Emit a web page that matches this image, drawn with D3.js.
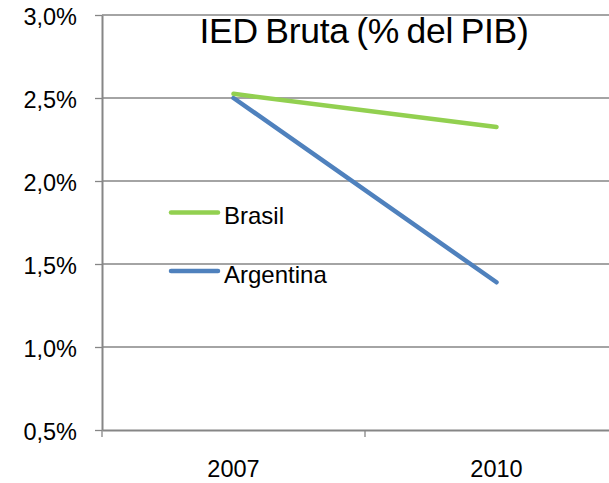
<!DOCTYPE html>
<html>
<head>
<meta charset="utf-8">
<script src="https://cdn.jsdelivr.net/npm/d3@7"></script>
<style>
  body { margin: 0; background: #fff; }
  svg { display: block; font-family: "Liberation Sans", Arial, sans-serif; }
</style>
</head>
<body>
<div id="chart"></div>
<script>
const years = ["2007", "2010"];
const brasil = [2.525, 2.325];
const argentina = [2.5, 1.39];
const yTicks = [0.5, 1.0, 1.5, 2.0, 2.5, 3.0];

const width = 609, height = 483;
const margin = { left: 102, right: -19, top: 15, bottom: 53 };
const innerW = width - margin.left - margin.right;
const innerH = height - margin.top - margin.bottom;
const font = "Liberation Sans, Arial, sans-serif";

const svg = d3.select("#chart").append("svg")
  .attr("width", width).attr("height", height);

const g = svg.append("g").attr("transform", `translate(${margin.left},${margin.top})`);

const x = d3.scaleBand().domain(years).range([0, innerW]);
const y = d3.scaleLinear().domain([0.5, 3.0]).range([innerH, 0]);

// gridlines
g.append("g").selectAll("line").data(yTicks.slice(1)).join("line")
  .attr("x1", 0).attr("x2", innerW)
  .attr("y1", d => y(d)).attr("y2", d => y(d))
  .attr("stroke", "#868686").attr("stroke-width", 1.3);

// y axis
const fmt = d => d.toFixed(1).replace(".", ",") + "%";
const yAxis = g.append("g").call(d3.axisLeft(y).tickValues(yTicks).tickFormat(fmt).tickSize(7).tickSizeOuter(0).tickPadding(18));
yAxis.select(".domain").attr("stroke", "#868686").attr("stroke-width", 2);
yAxis.selectAll(".tick line").attr("stroke", "#868686").attr("stroke-width", 1.3);
yAxis.selectAll("text").attr("font-size", 23.5).attr("fill", "#000")
  .attr("font-family", font).attr("dy", "0.4em");

// x axis
const xAxis = g.append("g").attr("transform", `translate(0,${innerH})`)
  .call(d3.axisBottom(x).tickSize(0).tickSizeOuter(0).tickPadding(30));
xAxis.select(".domain").attr("stroke", "#868686").attr("stroke-width", 2);
xAxis.selectAll("text").attr("font-size", 23.5).attr("fill", "#000").attr("font-family", font);
// category boundary ticks
g.append("g").selectAll("line").data(d3.range(years.length + 1)).join("line")
  .attr("x1", i => i * x.bandwidth()).attr("x2", i => i * x.bandwidth())
  .attr("y1", innerH).attr("y2", innerH + 7)
  .attr("stroke", "#868686").attr("stroke-width", 1.3);

const line = d3.line().x((d, i) => x(years[i]) + x.bandwidth() / 2).y(d => y(d));

const series = [
  { name: "Brasil", values: brasil, color: "#92D050" },
  { name: "Argentina", values: argentina, color: "#4F81BD" }
];

g.append("g").selectAll("path").data([series[1], series[0]]).join("path")
  .attr("d", d => line(d.values))
  .attr("fill", "none")
  .attr("stroke", d => d.color)
  .attr("stroke-width", 4.5)
  .attr("stroke-linecap", "round");

// legend
const legend = svg.append("g").attr("transform", "translate(169,212.5)");
const items = legend.selectAll("g").data(series).join("g")
  .attr("transform", (d, i) => `translate(0,${i * 58.5})`);
items.append("line").attr("x1", 2).attr("x2", 49).attr("y1", 0).attr("y2", 0)
  .attr("stroke", d => d.color).attr("stroke-width", 4.5).attr("stroke-linecap", "round");
items.append("text").attr("x", 55).attr("y", 11.5).attr("font-size", 24).text(d => d.name);

// title
svg.append("text").attr("x", 364).attr("y", 43).attr("text-anchor", "middle")
  .attr("font-size", 35.5).attr("letter-spacing", -0.3).attr("word-spacing", -2)
  .text("IED Bruta (% del PIB)");
</script>
</body>
</html>
